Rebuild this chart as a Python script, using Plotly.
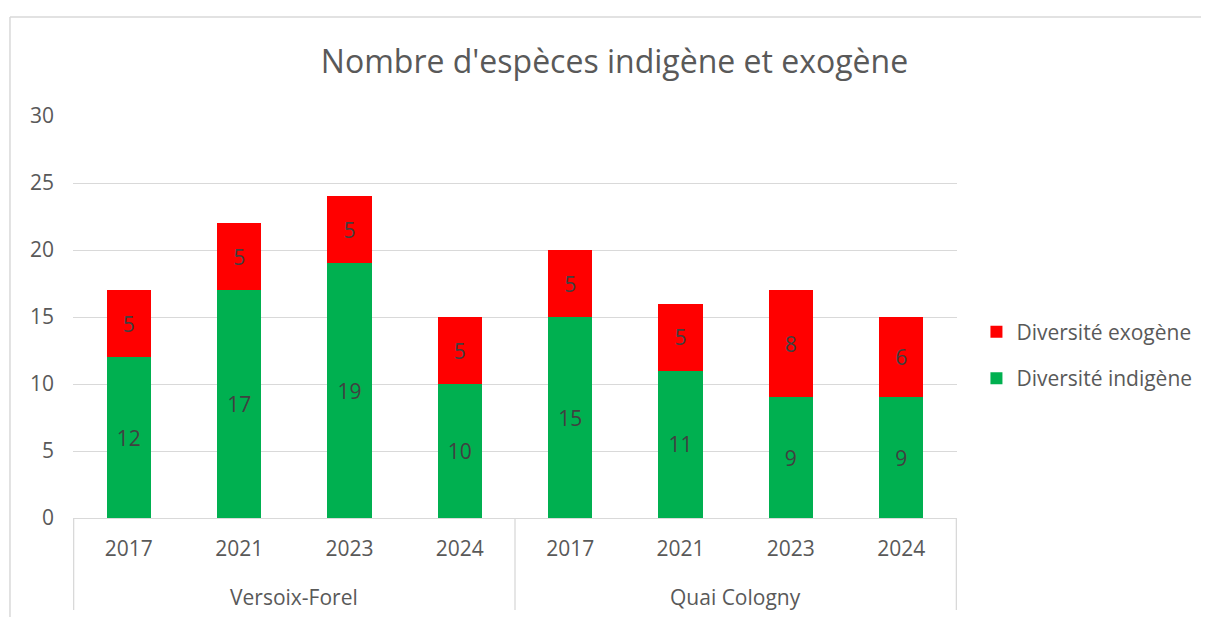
import plotly.graph_objects as go

sites = ["Versoix-Forel"] * 4 + ["Quai Cologny"] * 4
years = ["2017", "2021", "2023", "2024", "2017", "2021", "2023", "2024"]
indigene = [12, 17, 19, 10, 15, 11, 9, 9]
exogene = [5, 5, 5, 5, 5, 5, 8, 6]
groups = ["Versoix-Forel", "Quai Cologny"]

FONT = "Open Sans"
TXT = "#595959"
GRID = "#D9D9D9"
FS = 21

cats = [f"{s} {y}" for s, y in zip(sites, years)]

fig = go.Figure()
fig.add_trace(go.Bar(
    x=cats, y=indigene, name="Diversité indigène", legendgroup="ind", legendrank=2,
    marker=dict(color="#00B050", line=dict(width=0)),
    text=indigene, textposition="inside", insidetextanchor="middle",
    textfont=dict(color="#404040", size=FS, family=FONT),
))
fig.add_trace(go.Bar(
    x=cats, y=exogene, name="Diversité exogène", legendgroup="exo", legendrank=1,
    marker=dict(color="#FF0000", line=dict(width=0)),
    text=exogene, textposition="inside", insidetextanchor="middle",
    textfont=dict(color="#404040", size=FS, family=FONT),
))

# page body has an 8px margin: shrink figure accordingly
fig.update_layout(
    barmode="stack",
    bargap=0.6,
    width=1201, height=609,
    margin=dict(l=65, r=252, t=108, b=99, autoexpand=False),
    paper_bgcolor="white", plot_bgcolor="white",
    font=dict(family=FONT, color=TXT, size=FS),
    title=dict(text="Nombre d'espèces indigène et exogène", x=0.505, xanchor="center",
               y=0.911, yanchor="middle", font=dict(size=32, color=TXT, family=FONT)),
    legend=dict(x=1.022, xanchor="left", y=0.405, yanchor="middle",
                traceorder="grouped", font=dict(size=FS, color=TXT),
                itemwidth=30, tracegroupgap=16),
    uniformtext=dict(minsize=10, mode="show"),
)
fig.update_yaxes(range=[0, 30], dtick=5, showgrid=True, gridcolor=GRID, gridwidth=1.3,
                 zeroline=False, showline=False, ticks="", ticklabelstandoff=18,
                 tickfont=dict(size=FS, color=TXT), automargin=False)
fig.update_xaxes(showline=True, linecolor=GRID, linewidth=1.3, showgrid=False,
                 ticks="", tickvals=cats, ticktext=years, ticklabelstandoff=12,
                 tickfont=dict(size=FS, color=TXT), automargin=False)

# group labels and dividers of the two-level category axis
n = len(years) // len(groups)
for gi, g in enumerate(groups):
    fig.add_annotation(x=gi * n + (n - 1) / 2, xref="x", y=-0.1965, yref="paper",
                       text=g, showarrow=False, yanchor="middle",
                       font=dict(size=FS, color=TXT))
for b in range(len(groups) + 1):
    fig.add_shape(type="line", xref="x", yref="paper", x0=b * n - 0.5, x1=b * n - 0.5,
                  y0=0, y1=-0.229, line=dict(color=GRID, width=1.3))

# chart frame (chart area border)
fig.add_shape(type="line", xref="paper", yref="paper", x0=-0.0713, x1=1.3, y0=1.246, y1=1.246,
              line=dict(color=GRID, width=1.5))
fig.add_shape(type="line", xref="paper", yref="paper", x0=-0.0713, x1=-0.0713, y0=1.246, y1=-0.3,
              line=dict(color=GRID, width=1.5))

fig.write_html("out.html")
